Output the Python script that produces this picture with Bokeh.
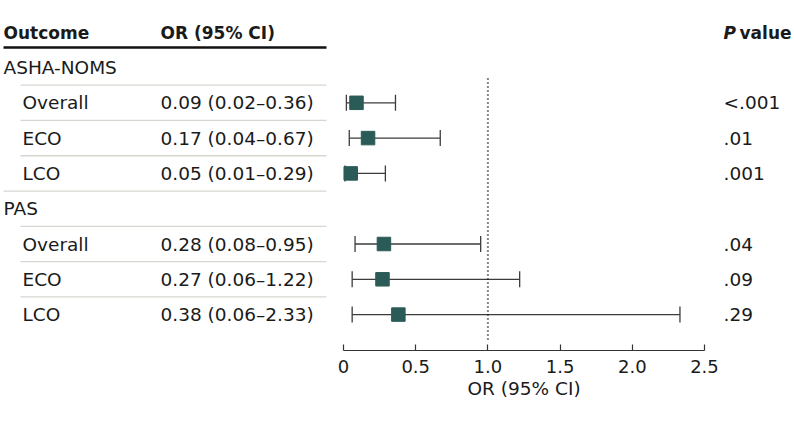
from bokeh.plotting import figure
from bokeh.models import Range1d, ColumnDataSource, Whisker, TeeHead, FixedTicker, Title
from bokeh.core.properties import value
from bokeh.embed import file_html
from bokeh.resources import INLINE

# ---------------- data ----------------
groups = ["ASHA-NOMS", "PAS"]
outcomes = ["Overall", "ECO", "LCO"]
or_est = [0.09, 0.17, 0.05, 0.28, 0.27, 0.38]
ci_low = [0.02, 0.04, 0.01, 0.08, 0.06, 0.06]
ci_high = [0.36, 0.67, 0.29, 0.95, 1.22, 2.33]
p_values = ["<.001", ".01", ".001", ".04", ".09", ".29"]
x_ticks = [0, 0.5, 1.0, 1.5, 2.0, 2.5]
x_tick_labels = ["0", "0.5", "1.0", "1.5", "2.0", "2.5"]
header_outcome = "Outcome"
header_or = "OR (95% CI)"
header_p_italic = "P"
header_p_rest = "value"
axis_title = "OR (95% CI)"
ref_line = 1.0

# ---------------- layout helpers ----------------
W, H = 794, 427
FRAME_H = 350          # frame height in px (axis below)
X0 = 343               # pixel position of OR = 0
PXU = 144.4            # pixels per OR unit
ROW0 = 67              # pixel centre of first row
ROWH = 35.3            # row spacing


def fx(px):
    return (px - X0) / PXU


def fy(py):
    return (py - ROW0) / ROWH


FONT_NAME = "DejaVu Sans"
FONT = value(FONT_NAME)
FS = "18.5px"
FSB = "17px"
FST = "18px"
TXT = "#1a1a1a"
TEAL = "#2b5b57"
CI_COL = "#3c3c3c"
SEP = "#d6d6d0"

p = figure(width=W, height=H, output_backend="svg", toolbar_location=None,
           x_range=Range1d(fx(0), fx(W)), y_range=Range1d(fy(FRAME_H), fy(0)),
           y_axis_location=None, x_axis_location="below",
           min_border_left=0, min_border_right=0, min_border_top=0,
           min_border_bottom=H - FRAME_H, outline_line_color=None,
           background_fill_color="white", border_fill_color="white")
p.xgrid.visible = False
p.ygrid.visible = False

# ---------------- rows ----------------
group_y, group_lbl = [], []
row_y, row_lbl, row_or, row_p = [], [], [], []
k = 0
for g, gname in enumerate(groups):
    base = g * (len(outcomes) + 1)
    group_y.append(base)
    group_lbl.append(gname)
    for j, oname in enumerate(outcomes):
        row_y.append(base + 1 + j)
        row_lbl.append(oname)
        row_or.append(f"{or_est[k]:.2f} ({ci_low[k]:.2f}\u2013{ci_high[k]:.2f})")
        row_p.append(p_values[k])
        k += 1

# separators
sx0, sx1, sy = [], [], []
n_rows = len(groups) * (len(outcomes) + 1)
for i in range(n_rows - 1):
    last_in_group = (i % (len(outcomes) + 1)) == len(outcomes)
    sx0.append(fx(3) if last_in_group else fx(20))
    sx1.append(fx(326))
    sy.append(i + 0.5)
p.segment(x0=sx0, x1=sx1, y0=sy, y1=sy, line_color=SEP, line_width=1.3)

# header
hy = fy(32)
p.text(x=[fx(3)], y=[hy], text=[header_outcome], text_font=FONT, text_font_size=FSB,
       text_font_style="bold", text_baseline="middle", text_color=TXT)
p.text(x=[fx(160)], y=[hy], text=[header_or], text_font=FONT, text_font_size=FSB,
       text_font_style="bold", text_baseline="middle", text_color=TXT)
p.text(x=[fx(723)], y=[hy], text=[header_p_italic], text_font=FONT, text_font_size=FSB,
       text_font_style="bold italic", text_baseline="middle", text_color=TXT)
p.text(x=[fx(739)], y=[hy], text=[header_p_rest], text_font=FONT, text_font_size=FSB,
       text_font_style="bold", text_baseline="middle", text_color=TXT)
p.segment(x0=[fx(3)], x1=[fx(326)], y0=[fy(47)], y1=[fy(47)], line_color="#111111",
          line_width=2.5)

# group labels
p.text(x=[fx(3)] * len(group_y), y=group_y, text=group_lbl, text_font=FONT,
       text_font_size=FS, text_baseline="middle", text_color=TXT)

src = ColumnDataSource(dict(y=row_y, lbl=row_lbl, ors=row_or, pv=row_p,
                            est=or_est, lo=ci_low, hi=ci_high))
p.text(x=fx(22), y="y", text="lbl", source=src, text_font=FONT, text_font_size=FS,
       text_baseline="middle", text_color=TXT)
p.text(x=fx(160), y="y", text="ors", source=src, text_font=FONT, text_font_size=FS,
       text_baseline="middle", text_color=TXT)
p.text(x=fx(723), y="y", text="pv", source=src, text_font=FONT, text_font_size=FS,
       text_baseline="middle", text_color=TXT)

# reference line
p.segment(x0=[ref_line], x1=[ref_line], y0=[fy(78)], y1=[fy(342)], line_color="#111111",
          line_width=2, line_dash="1 3")

# CIs
wh = Whisker(source=src, base="y", lower="lo", upper="hi", dimension="width",
             line_color=CI_COL, line_width=1.3,
             upper_head=TeeHead(size=16, line_color=CI_COL, line_width=1.3),
             lower_head=TeeHead(size=16, line_color=CI_COL, line_width=1.3))
p.add_layout(wh)
p.scatter(x="est", y="y", source=src, marker="square", size=13.5, fill_color=TEAL,
          line_color=TEAL)

# axis
ax = p.xaxis[0]
ax.ticker = FixedTicker(ticks=x_ticks)
ax.major_label_overrides = {t: l for t, l in zip(x_ticks, x_tick_labels)}
ax.bounds = (x_ticks[0], x_ticks[-1])
ax.axis_line_color = "#333333"
ax.axis_line_width = 1.2
ax.major_tick_line_color = "#333333"
ax.major_tick_line_width = 1.2
ax.major_tick_in = 6
ax.major_tick_out = 0
ax.minor_tick_line_color = None
ax.major_label_text_font = FONT_NAME
ax.major_label_text_font_size = FST
ax.major_label_text_color = TXT
ax.major_label_standoff = 9

# axis title under the bounded axis, left-aligned at an offset from the frame edge
TITLE_W = 113  # approx rendered width of the axis title
axis_mid_px = X0 + (x_ticks[0] + x_ticks[-1]) / 2 * PXU
p.add_layout(Title(text=axis_title, align="left", offset=axis_mid_px - TITLE_W / 2,
                   text_font=FONT_NAME, text_font_size=FS, text_font_style="normal",
                   text_color=TXT, standoff=0), "below")

open("out.html", "w").write(file_html(p, INLINE))
